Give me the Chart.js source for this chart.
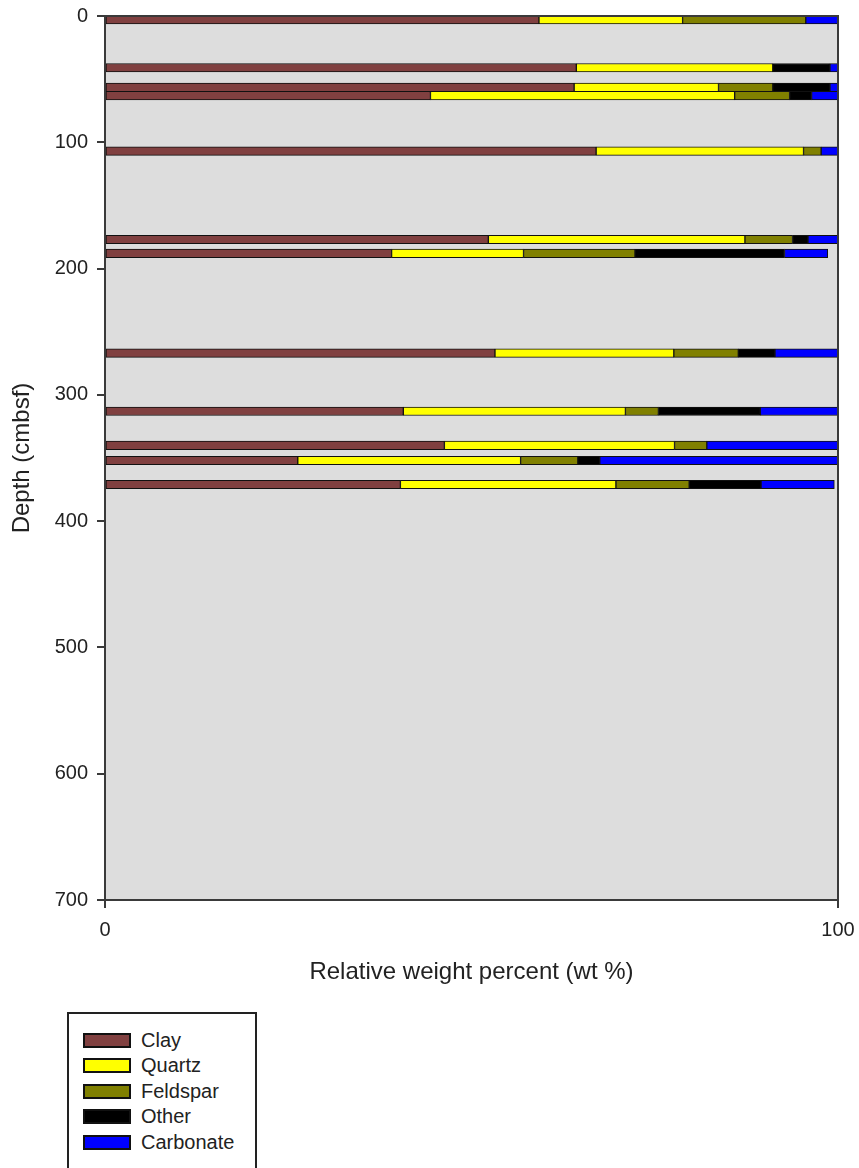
<!DOCTYPE html>
<html>
<head>
<meta charset="utf-8">
<title>Mineral composition vs depth</title>
<script src="https://cdn.jsdelivr.net/npm/chart.js@4/dist/chart.umd.min.js"></script>
<style>
  html, body { margin: 0; padding: 0; background: #ffffff; }
  #wrap { position: relative; width: 859px; height: 1168px; overflow: hidden; }
  #chart { position: absolute; left: 0; top: 0; }
  #legend {
    position: absolute; left: 67px; top: 1012px; width: 186px; height: 170px;
    border: 2px solid #222; border-bottom: none; background: #fff;
    font-family: "Liberation Sans", Arial, sans-serif; font-size: 20px; color: #222;
  }
  .item { position: absolute; left: 0; height: 16px; width: 180px; }
  .swatch { position: absolute; left: 14px; top: 0; width: 44px; height: 11px; border: 2px solid #111; }
  .label { position: absolute; left: 72px; top: -4px; line-height: 22px; white-space: nowrap; }
</style>
</head>
<body>
<div id="wrap">
  <canvas id="chart" width="859" height="1168"></canvas>
  <div id="legend"></div>
</div>
<script>
// Sample depths (cmbsf) and relative weight percent of each mineral group
const depths    = [3, 41, 56.5, 63, 107, 177, 188, 267, 313, 340, 352, 371];
const clay      = [59.2, 64.3, 64.0, 44.4, 67.0, 52.3, 39.1, 53.2, 40.7, 46.3, 26.3, 40.3];
const quartz    = [19.6, 26.8, 19.7, 41.5, 28.3, 35.0, 18.0, 24.4, 30.3, 31.4, 30.4, 29.4];
const feldspar  = [16.8,  0.0,  7.4,  7.5,  2.4,  6.5, 15.2,  8.8,  4.5,  4.4,  7.8, 10.0];
const other     = [ 0.0,  7.8,  7.8,  3.0,  0.0,  2.1, 20.4,  5.0, 13.9,  0.0,  3.0,  9.8];
const carbonate = [ 4.4,  1.1,  1.1,  3.6,  2.3,  4.1,  5.9,  8.6, 10.6, 17.9, 32.5, 10.0];

const seriesNames  = ['Clay', 'Quartz', 'Feldspar', 'Other', 'Carbonate'];
const seriesColors = ['#804040', '#ffff00', '#808000', '#000000', '#0000ff'];
const seriesValues = [clay, quartz, feldspar, other, carbonate];

const depthTicks   = [0, 100, 200, 300, 400, 500, 600, 700];
const percentTicks = [0, 100];

const FONT = '"Liberation Sans", Arial, sans-serif';

const datasets = seriesNames.map((name, i) => ({
  label: name,
  data: depths.map((d, j) => ({ x: seriesValues[i][j], y: d })),
  backgroundColor: seriesColors[i],
  borderColor: '#111111',
  borderWidth: 1,
  borderSkipped: false,
  barThickness: 8.5,
  grouped: false
}));

// Grey plot background and dark frame around the plot area
const plotFrame = {
  id: 'plotFrame',
  beforeDatasetsDraw(chart) {
    const { ctx, chartArea: a } = chart;
    ctx.save();
    ctx.fillStyle = '#dddddd';
    ctx.fillRect(a.left, a.top, a.right - a.left, a.bottom - a.top);
    ctx.restore();
  },
  afterDraw(chart) {
    const { ctx, chartArea: a } = chart;
    ctx.save();
    ctx.strokeStyle = '#3a3a3a';
    ctx.lineWidth = 2;
    ctx.strokeRect(a.left, a.top, a.right - a.left, a.bottom - a.top);
    ctx.restore();
  }
};

// Let the layout padding alone decide where the plot area sits
function clearEdgePadding(s) {
  s.paddingLeft = 0; s.paddingRight = 0; s.paddingTop = 0; s.paddingBottom = 0;
}

const chart = new Chart(document.getElementById('chart'), {
  type: 'bar',
  data: { datasets },
  options: {
    indexAxis: 'y',
    responsive: false,
    animation: false,
    devicePixelRatio: 1,
    layout: { padding: { left: 0, top: 16, right: 21, bottom: 168 } },
    plugins: { legend: { display: false }, tooltip: { enabled: false } },
    scales: {
      x: {
        type: 'linear', stacked: true, min: 0, max: 100, position: 'bottom',
        afterFit(s) { s.height = 100; clearEdgePadding(s); },
        afterBuildTicks(s) { s.ticks = percentTicks.map(v => ({ value: v })); },
        border: { display: false },
        grid: { drawOnChartArea: false, drawTicks: true, tickLength: 8, color: '#3a3a3a', lineWidth: 2 },
        ticks: { padding: 10, color: '#222', font: { family: FONT, size: 20 }, maxRotation: 0 },
        title: { display: true, text: 'Relative weight percent (wt %)', color: '#222',
                 font: { family: FONT, size: 24 }, padding: { top: 0, bottom: 13.6 } }
      },
      y: {
        type: 'linear', reverse: true, min: 0, max: 700, offset: false,
        afterFit(s) { s.width = 105; clearEdgePadding(s); },
        afterBuildTicks(s) { s.ticks = depthTicks.map(v => ({ value: v })); },
        border: { display: false },
        grid: { offset: false, drawOnChartArea: false, drawTicks: true, tickLength: 8, color: '#3a3a3a', lineWidth: 2 },
        ticks: { padding: 9, color: '#222', font: { family: FONT, size: 20 } },
        title: { display: true, text: 'Depth (cmbsf)', color: '#222',
                 font: { family: FONT, size: 24 }, padding: { top: 8, bottom: 0 } }
      }
    }
  },
  plugins: [plotFrame]
});

// Legend box built from the chart's datasets
const legend = document.getElementById('legend');
chart.data.datasets.forEach((ds, i) => {
  const item = document.createElement('div');
  item.className = 'item';
  item.style.top = (19 + i * 25.4) + 'px';
  const sw = document.createElement('div');
  sw.className = 'swatch';
  sw.style.background = ds.backgroundColor;
  const lb = document.createElement('div');
  lb.className = 'label';
  lb.textContent = ds.label;
  item.appendChild(sw);
  item.appendChild(lb);
  legend.appendChild(item);
});
</script>
</body>
</html>
